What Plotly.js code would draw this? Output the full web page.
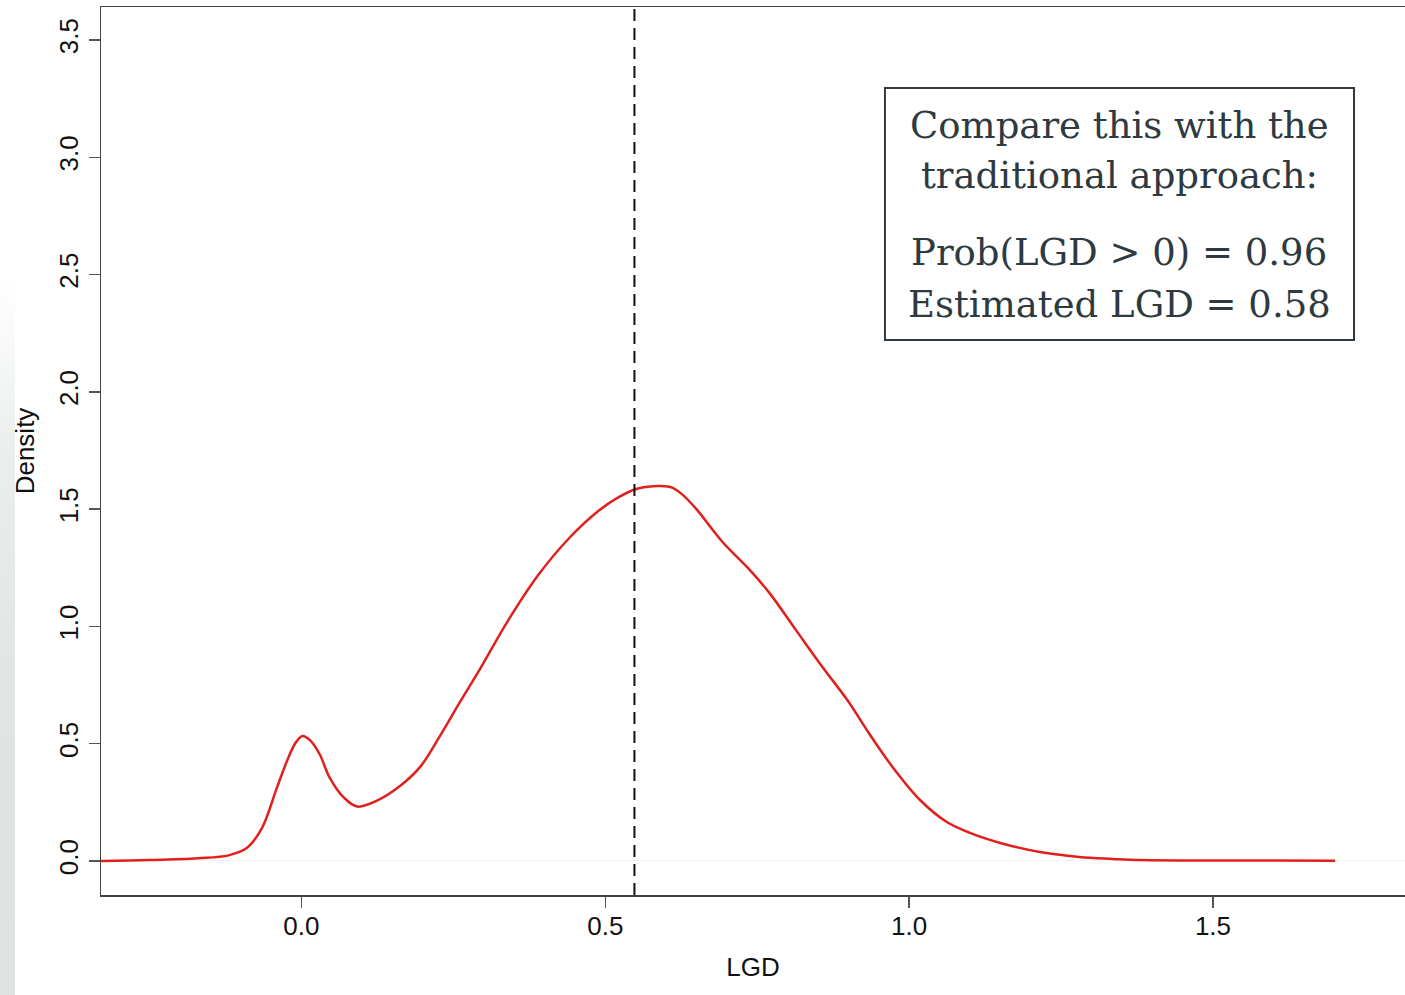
<!DOCTYPE html>
<html>
<head>
<meta charset="utf-8">
<script src="https://cdn.plot.ly/plotly-3.0.1.min.js"></script>
<style>
  html, body { margin: 0; padding: 0; background: #ffffff; }
  #strip { position: absolute; left: 0; top: 0; width: 15px; height: 995px;
           background: linear-gradient(to bottom, #ffffff 0%, #ffffff 28%, #eceeee 45%, #e2e4e4 70%, #e0e2e2 100%); }
  #chart { position: absolute; left: 0; top: 0; width: 1405px; height: 995px; }
</style>
</head>
<body>
<div id="strip"></div>
<div id="chart"></div>
<script>
// Kernel density estimate of LGD
const lgdX = [-0.331, -0.250, -0.170, -0.120, -0.090, -0.065, -0.040, -0.020, -0.008, 0.002,
              0.014, 0.030, 0.046, 0.070, 0.092, 0.125, 0.160, 0.195, 0.227, 0.260,
              0.293, 0.340, 0.390, 0.440, 0.490, 0.520, 0.548, 0.570, 0.590, 0.610,
              0.627, 0.650, 0.693, 0.738, 0.771, 0.815, 0.858, 0.900, 0.930, 0.973,
              1.018, 1.062, 1.100, 1.150, 1.215, 1.280, 1.335, 1.380, 1.500, 1.600, 1.701];
const density = [0.000, 0.004, 0.012, 0.024, 0.055, 0.140, 0.315, 0.450, 0.510, 0.533,
                 0.515, 0.455, 0.358, 0.270, 0.232, 0.258, 0.315, 0.400, 0.529, 0.674,
                 0.815, 1.025, 1.220, 1.375, 1.495, 1.548, 1.584, 1.596, 1.599, 1.592,
                 1.562, 1.500, 1.360, 1.240, 1.140, 0.980, 0.825, 0.680, 0.560, 0.400,
                 0.260, 0.166, 0.120, 0.077, 0.038, 0.017, 0.009, 0.004, 0.002, 0.002, 0.001];
const meanLine = 0.548;
const xTicks = [0.0, 0.5, 1.0, 1.5];
const xTickText = ["0.0", "0.5", "1.0", "1.5"];
const yTicks = [0.0, 0.5, 1.0, 1.5, 2.0, 2.5, 3.0, 3.5];
const yTickText = ["0.0", "0.5", "1.0", "1.5", "2.0", "2.5", "3.0", "3.5"];
const boxLines = ["Compare this with the", "traditional approach:", "Prob(LGD > 0) = 0.96", "Estimated LGD = 0.58"];

const axisFont = {family: "Liberation Sans, Arial, sans-serif", size: 26, color: "#111111"};
const serif = {family: "DejaVu Serif, serif", size: 37, color: "#2e3a40"};

const trace = {
  x: lgdX, y: density, type: "scatter", mode: "lines",
  line: {color: "#e0201c", width: 2.5, shape: "spline", smoothing: 1.0},
  hoverinfo: "skip", showlegend: false
};

const lineY = [0.867, 0.8097, 0.723, 0.6655];
const annotations = boxLines.map((t, i) => ({
  xref: "paper", yref: "paper", x: 0.781, y: lineY[i],
  xanchor: "center", yanchor: "middle", showarrow: false,
  text: t, font: serif
}));

const layout = {
  width: 1405, height: 995,
  margin: {l: 101, r: 0, t: 7, b: 100},
  paper_bgcolor: "rgba(0,0,0,0)",
  plot_bgcolor: "#ffffff",
  xaxis: {
    range: [-0.3298, 1.816], tickvals: xTicks, ticktext: xTickText,
    showgrid: false, zeroline: false, showline: true, mirror: true,
    linecolor: "#444444", linewidth: 1.5,
    ticks: "outside", ticklen: 11, tickwidth: 1.5, tickcolor: "#555555",
    tickfont: axisFont, ticklabelstandoff: -4,
    title: {text: "LGD", font: axisFont, standoff: 18}
  },
  yaxis: {
    range: [-0.145, 3.641], tickvals: yTicks, ticktext: yTickText,
    showgrid: false, zeroline: true, zerolinecolor: "#f2f2f2", zerolinewidth: 1,
    showline: true, mirror: false,
    linecolor: "#444444", linewidth: 1.5,
    ticks: "outside", ticklen: 11, tickwidth: 1.5, tickcolor: "#555555",
    tickfont: axisFont, tickangle: -90,
    title: {text: "Density", font: axisFont, standoff: 12}
  },
  shapes: [
    {type: "line", xref: "x", yref: "paper", x0: meanLine, x1: meanLine, y0: 0, y1: 1,
     line: {color: "#111111", width: 2, dash: "12px,7px"}},
    {type: "rect", xref: "paper", yref: "paper", x0: 0.6012, x1: 0.9609, y0: 0.625, y1: 0.9088,
     line: {color: "#333b40", width: 2}, fillcolor: "rgba(255,255,255,0)"}
  ],
  annotations: annotations
};

Plotly.newPlot("chart", [trace], layout, {displayModeBar: false, staticPlot: true});
</script>
</body>
</html>
